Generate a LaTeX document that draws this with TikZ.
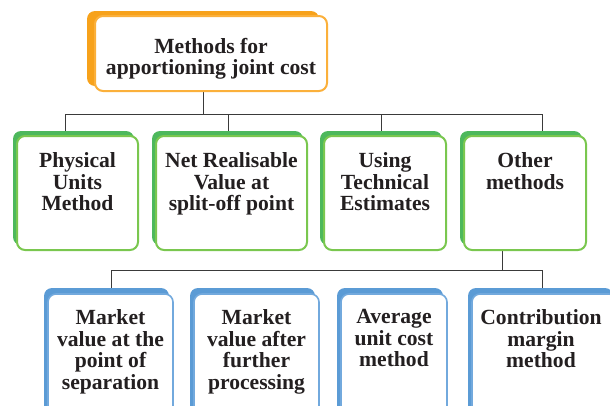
\documentclass[tikz,border=0pt]{standalone}
\usepackage{fontspec}
\setmainfont{Liberation Serif}
\usetikzlibrary{shadows,backgrounds}
\definecolor{orgback}{HTML}{F7A21B}
\definecolor{orgfront}{HTML}{FBB03B}
\definecolor{grnback}{HTML}{4DB85C}
\definecolor{grnfront}{HTML}{7AC74F}
\definecolor{bluback}{HTML}{5B9BD5}
\definecolor{blufront}{HTML}{72A9DD}
\definecolor{txtc}{HTML}{231F20}
\definecolor{connc}{HTML}{3A3A3A}
\tikzset{
  basebox/.style={rectangle, fill=white, rounded corners=8pt, inner sep=0pt},
  obox/.style={basebox, draw=orgfront, line width=2pt,
     general shadow={fill=orgback, shadow xshift=-8pt, shadow yshift=5pt}},
  gbox/.style={basebox, draw=grnfront, line width=2pt, minimum height=114pt,
     general shadow={fill=grnback, shadow xshift=-4pt, shadow yshift=5pt}},
  bbox/.style={basebox, draw=blufront, line width=1.6pt, minimum height=125pt,
     general shadow={fill=bluback, shadow xshift=-4pt, shadow yshift=6pt}},
  lbl/.style={font=\bfseries\fontsize{21.6}{21.5}\selectfont, text=txtc, align=center, inner sep=0pt, anchor=north},
  conn/.style={draw=connc, line width=0.9pt}
}
\begin{document}
\begin{tikzpicture}[x=1pt,y=-1pt]
\useasboundingbox (0,0) rectangle (610,405);
\clip (0,0) rectangle (610,405);

% boxes
\node[obox, minimum width=232pt, minimum height=75pt] (top) at (211,53.5) {};
\node[gbox, minimum width=121pt] (g1) at (77.5,193) {};
\node[gbox, minimum width=151pt] (g2) at (231.5,193) {};
\node[gbox, minimum width=122pt] (g3) at (385,193) {};
\node[gbox, minimum width=122pt] (g4) at (525,193) {};
\node[bbox, minimum width=125pt] (b1) at (110.5,356.5) {};
\node[bbox, minimum width=125pt] (b2) at (256.5,356.5) {};
\node[bbox, minimum width=106pt] (b3) at (394,356.5) {};
\node[bbox, minimum width=145pt] (b4) at (544.5,356.5) {};

% connectors behind the boxes
\begin{scope}[on background layer]
\coordinate (busL) at (65,114);
\coordinate (busB) at (111,270);
\draw[conn] ([xshift=-8pt]top.south) -- ([xshift=-8pt]top.south |- busL);
\draw[conn] (busL) -- ([yshift=-2pt]busL |- g1.north);
\draw[conn] (busL) -| ([xshift=-3.5pt,yshift=-2pt]g2.north);
\draw[conn] (busL) -| ([xshift=-4pt,yshift=-2pt]g3.north);
\draw[conn] (busL) -| ([xshift=17pt,yshift=-2pt]g4.north);
\draw[conn] ([xshift=-23pt]g4.south) |- (busB);
\draw[conn] (busB) -- ([yshift=-3pt]busB |- b1.north);
\draw[conn] (busB) -| ([xshift=-2.5pt,yshift=-3pt]b4.north);
\end{scope}

% texts
\node[lbl] (t0) at (211,38) {Methods for\\apportioning joint cost};
\node[lbl] (tg1) at (77.5,152.5) {Physical\\Units\\Method};
\node[lbl] (tg2) at (231.5,152.5) {Net Realisable\\Value at\\split-off point};
\node[lbl] (tg3) at (385,152.5) {Using\\Technical\\Estimates};
\node[lbl] (tg4) at (525,152.5) {Other\\methods};
\node[lbl] (tb1) at (110.5,309.5) {Market\\value at the\\point of\\separation};
\node[lbl] (tb2) at (256.5,309.5) {Market\\value after\\further\\processing};
\node[lbl] (tb3) at (394,309.5) {Average\\unit cost\\method};
\node[lbl] (tb4) at (541,309.5) {Contribution\\margin\\method};
\end{tikzpicture}
\end{document}
